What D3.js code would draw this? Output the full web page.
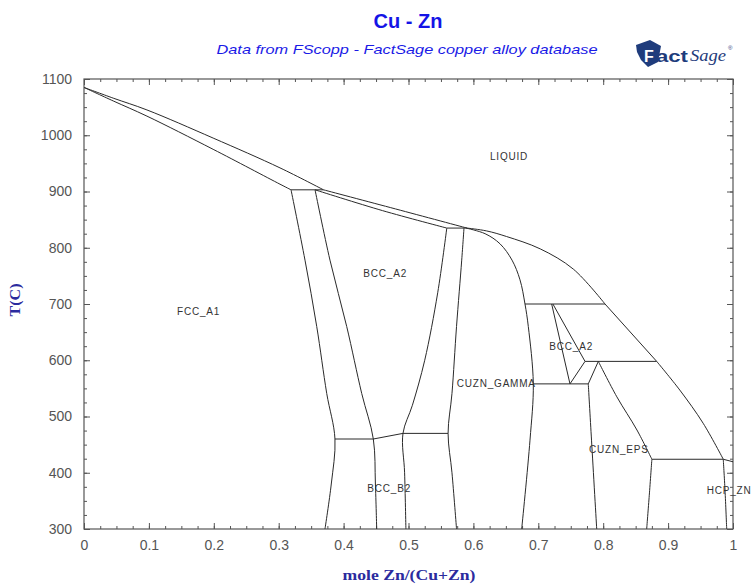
<!DOCTYPE html>
<html><head><meta charset="utf-8">
<script src="https://cdn.jsdelivr.net/npm/d3@7"></script>
<style>body{margin:0;background:#fff;} svg{display:block}</style>
</head><body>
<svg id="chart" width="751" height="584"></svg>
<script>
// ---- tick values / labels ----
const xTickValues = [0,0.1,0.2,0.3,0.4,0.5,0.6,0.7,0.8,0.9,1];
const xTickLabels = ["0","0.1","0.2","0.3","0.4","0.5","0.6","0.7","0.8","0.9","1"];
const yTickValues = [300,400,500,600,700,800,900,1000,1100];
const yTickLabels = ["300","400","500","600","700","800","900","1000","1100"];

// ---- phase boundaries: [mole fraction Zn, T(C)] ----
const liquidusCu   = [[0,1085],[0.045,1066],[0.097,1045],[0.199,995],[0.302,942],[0.369,903]];
const solidusFcc   = [[0,1085],[0.045,1061],[0.097,1034],[0.199,975],[0.302,913],[0.319,903]];
const liquidusBcc  = [[0.369,903],[0.48,869],[0.59,835]];
const solidusBcc   = [[0.356,903],[0.46,866],[0.559,835]];
const fccSolvus    = [[0.319,903],[0.3405,778],[0.3586,660],[0.374,541],[0.3867,460],[0.381,380],[0.3713,300]];
const bccLeft      = [[0.356,903],[0.379,778],[0.4048,660],[0.4279,541],[0.4458,460],[0.449,380],[0.451,300]];
const bccRight     = [[0.559,835],[0.545,720],[0.525,600],[0.506,520],[0.4915,470],[0.494,400],[0.496,300]];
const gammaLeft    = [[0.5855,835],[0.582,778],[0.574,660],[0.567,541],[0.561,470],[0.567,400],[0.574,300]];
const gammaRight   = [[0.5886,835],[0.618,825],[0.641,807],[0.6595,778],[0.6718,743],[0.6795,700],[0.6846,660],[0.6923,558],[0.6872,458],[0.6744,300]];
const liquidusZnA  = [[0.59,835],[0.62,830],[0.651,820],[0.703,798],[0.754,762],[0.8028,700]];
const liquidusZnB  = [[0.8028,700],[0.8824,598]];
const liquidusZnC  = [[0.8824,598],[0.918,547],[0.954,488],[0.985,424]];
const liquidusZnD  = [[0.985,424],[1,419.5]];
const deltaLeft    = [[0.7206,700],[0.7488,558]];
const deltaRightUp = [[0.7225,700],[0.772,598]];
const deltaRightLo = [[0.772,598],[0.7488,558]];
const epsLeftUp    = [[0.7925,598],[0.777,558]];
const epsLeft      = [[0.777,558],[0.782,458],[0.79,300]];
const epsRight     = [[0.7925,598],[0.821,535],[0.852,476],[0.875,424]];
const epsRightLo   = [[0.875,424],[0.871,360],[0.867,300]];
const hcpBoundary  = [[0.985,424],[0.9877,369],[0.9903,300]];
const orderLine    = [[0.4458,460],[0.4915,470]];
// isotherms: [T, xStart, xEnd]
const isotherms = [[903,0.319,0.369],[835,0.559,0.59],[700,0.6795,0.8028],[598,0.772,0.8824],
                   [558,0.6923,0.777],[424,0.875,0.985],[460,0.3867,0.4458],[470,0.4915,0.561]];
// phase labels: [name, x, T] (left / baseline)
const phaseNames = ["LIQUID","BCC_A2","FCC_A1","BCC_A2","CUZN_GAMMA","CUZN_EPS","BCC_B2","HCP_ZN"];
const phaseX     = [0.6256,0.4304,0.1433,0.717,0.5743,0.7781,0.4365,0.9595];
const phaseT     = [956,748,680,618,552,435,366,362];

// ---- layout ----
const svg = d3.select("#chart");
const L = 84, R = 733, T0 = 79, B = 529;
const x = d3.scaleLinear().domain([0,1]).range([L,R]);
const y = d3.scaleLinear().domain([300,1100]).range([B,T0]);

// titles
svg.append("text").attr("x",408).attr("y",28).attr("text-anchor","middle")
  .attr("font-family","Liberation Sans, Arial, sans-serif").attr("font-weight","bold")
  .attr("font-size",20).attr("fill","#1414e6").text("Cu - Zn");
svg.append("text").attr("x",407).attr("y",54).attr("text-anchor","middle")
  .attr("font-family","Liberation Sans, Arial, sans-serif").attr("font-style","italic")
  .attr("font-size",13).attr("fill","#1a1ae6")
  .attr("textLength",381).attr("lengthAdjust","spacingAndGlyphs")
  .text("Data from FScopp - FactSage copper alloy database");

// logo
const logo = svg.append("g");
logo.append("path").attr("d","M636,45 L650,40 L661,46 L658,62 L648,67 L641,60 L637,52 Z").attr("fill","#1f3c7c");
logo.append("text").attr("x",644).attr("y",62).attr("font-family","Liberation Sans, Arial, sans-serif")
  .attr("font-weight","bold").attr("font-size",16).attr("fill","#fff").text("F");
logo.append("text").attr("x",656).attr("y",62).attr("font-family","Liberation Sans, Arial, sans-serif")
  .attr("font-weight","bold").attr("font-size",17).attr("fill","#1f3c7c")
  .attr("textLength",32).attr("lengthAdjust","spacingAndGlyphs").text("act");
logo.append("text").attr("x",690).attr("y",61).attr("font-family","Liberation Serif, Times, serif")
  .attr("font-style","italic").attr("font-size",17).attr("fill","#1f3c7c")
  .attr("textLength",36).attr("lengthAdjust","spacingAndGlyphs").text("Sage");
logo.append("text").attr("x",728).attr("y",50).attr("font-family","Liberation Sans, Arial, sans-serif")
  .attr("font-size",6).attr("fill","#1f3c7c").text("®");

// axis titles
svg.append("text").attr("transform","translate(20,300) rotate(-90)").attr("text-anchor","middle")
  .attr("font-family","Liberation Serif, Times, serif").attr("font-weight","bold")
  .attr("font-size",14).attr("fill","#2b2b9e").attr("textLength",33).attr("lengthAdjust","spacingAndGlyphs").text("T(C)");
svg.append("text").attr("x",409).attr("y",580).attr("text-anchor","middle")
  .attr("font-family","Liberation Serif, Times, serif").attr("font-weight","bold")
  .attr("font-size",14).attr("fill","#2b2b9e").attr("textLength",133).attr("lengthAdjust","spacingAndGlyphs").text("mole Zn/(Cu+Zn)");

// axes
const axisColor = "#555";
const xMinor = d3.range(0,1.0001,0.025);
const yMinor = d3.range(300,1100.01,25);
function styleAxis(g){
  g.select(".domain").remove();
  g.selectAll("line").attr("stroke",axisColor);
  g.selectAll("text").attr("fill","#555").attr("font-family","Liberation Sans, Arial, sans-serif").attr("font-size",14);
}
svg.append("g").attr("transform",`translate(0,${B})`)
  .call(d3.axisBottom(x).tickValues(xMinor).tickFormat("").tickSize(-3)).call(styleAxis);
svg.append("g").attr("transform",`translate(0,${B})`)
  .call(d3.axisBottom(x).tickValues(xTickValues).tickFormat((d,i)=>xTickLabels[i]).tickSize(-6).tickPadding(11)).call(styleAxis);
svg.append("g").attr("transform",`translate(0,${T0})`)
  .call(d3.axisTop(x).tickValues(xMinor).tickFormat("").tickSize(-3)).call(styleAxis);
svg.append("g").attr("transform",`translate(0,${T0})`)
  .call(d3.axisTop(x).tickValues(xTickValues).tickFormat("").tickSize(-6)).call(styleAxis);
svg.append("g").attr("transform",`translate(${L},0)`)
  .call(d3.axisLeft(y).tickValues(yMinor).tickFormat("").tickSize(-3)).call(styleAxis);
svg.append("g").attr("transform",`translate(${L},0)`)
  .call(d3.axisLeft(y).tickValues(yTickValues).tickFormat((d,i)=>yTickLabels[i]).tickSize(-6).tickPadding(12)).call(styleAxis);
svg.append("g").attr("transform",`translate(${R},0)`)
  .call(d3.axisRight(y).tickValues(yMinor).tickFormat("").tickSize(-3)).call(styleAxis);
svg.append("g").attr("transform",`translate(${R},0)`)
  .call(d3.axisRight(y).tickValues(yTickValues).tickFormat("").tickSize(-6)).call(styleAxis);
svg.append("rect").attr("x",L).attr("y",T0).attr("width",R-L).attr("height",B-T0)
  .attr("fill","none").attr("stroke",axisColor).attr("stroke-width",1.2);

// clip
svg.append("clipPath").attr("id","plotclip").append("rect")
  .attr("x",L).attr("y",T0).attr("width",R-L).attr("height",B-T0);
const plot = svg.append("g").attr("clip-path","url(#plotclip)");

const smooth = d3.line().x(d=>x(d[0])).y(d=>y(d[1])).curve(d3.curveCatmullRom.alpha(0.5));
const curves = [liquidusCu,solidusFcc,liquidusBcc,solidusBcc,fccSolvus,bccLeft,bccRight,gammaLeft,gammaRight,
  liquidusZnA,liquidusZnB,liquidusZnC,liquidusZnD,deltaLeft,deltaRightUp,deltaRightLo,epsLeftUp,epsLeft,
  epsRight,epsRightLo,hcpBoundary,orderLine];
plot.selectAll("path.bnd").data(curves).join("path").attr("class","bnd")
  .attr("d",smooth).attr("fill","none").attr("stroke","#2a2a2a").attr("stroke-width",1);
plot.selectAll("line.iso").data(isotherms).join("line").attr("class","iso")
  .attr("x1",d=>x(d[1])).attr("x2",d=>x(d[2])).attr("y1",d=>y(d[0])).attr("y2",d=>y(d[0]))
  .attr("stroke","#2a2a2a").attr("stroke-width",1);

// labels
svg.selectAll("text.phase").data(phaseNames).join("text").attr("class","phase")
  .attr("x",(d,i)=>x(phaseX[i])).attr("y",(d,i)=>y(phaseT[i]))
  .attr("font-family","Liberation Sans, Arial, sans-serif").attr("font-size",10)
  .attr("letter-spacing",0.8).attr("fill","#333").text(d=>d);
</script>
</body></html>
